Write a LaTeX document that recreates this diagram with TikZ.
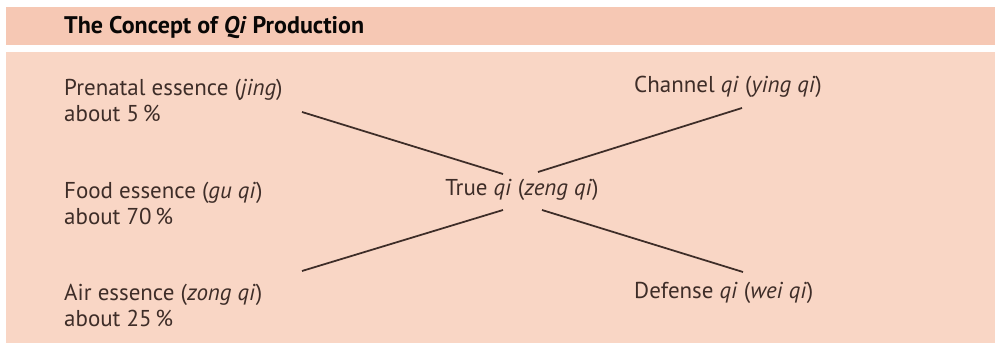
\documentclass[tikz,border=0pt]{standalone}
\usepackage{fontspec}
\setmainfont{PT Sans}
\usetikzlibrary{positioning, calc}
\definecolor{headColor}{RGB}{246, 200, 180}
\definecolor{bodyColor}{RGB}{249, 214, 197}
\definecolor{inkColor}{RGB}{62, 45, 40}

\begin{document}
\begin{tikzpicture}[x=0.03cm, y=-0.03cm,
      label/.style={anchor=west, align=left, inner sep=0pt, text=inkColor, font=\fontsize{19.6}{22.2}\selectfont},
      link/.style={draw=inkColor, line width=1.5pt}]

      \useasboundingbox (0,0) rectangle (995,343);
      \fill[headColor] (6,7) rectangle (1000,45);
      \fill[bodyColor] (6,52) rectangle (1000,350);

      \node[label, text=black!85!inkColor, font=\bfseries\fontsize{20.5}{24}\selectfont] (title) at (64,28) {The Concept of \textit{Qi} Production};

      % sources
      \node[label] (pren) at (64,100) {Prenatal essence (\textit{jing})\\about 5\,\%};
      \node[label] (food) at (64,203) {Food essence (\textit{gu qi})\\about 70\,\%};
      \node[label] (air) at (64,305) {Air essence (\textit{zong qi})\\about 25\,\%};

      % centre and results
      \node[label, anchor=center] (true) at (522,190) {True \textit{qi} (\textit{zeng qi})};
      \node[label] (chan) at (634,87) {Channel \textit{qi} (\textit{ying qi})};
      \node[label] (def) at (634,293) {Defense \textit{qi} (\textit{wei qi})};

      \coordinate (pren out) at (302,112);
      \coordinate (air out) at (302,271);
      \coordinate (chan in) at (742,108);
      \coordinate (def in) at (743,272);
      \coordinate (true nw) at (503,174);
      \coordinate (true sw) at (503,210);
      \coordinate (true ne) at (538,172);
      \coordinate (true se) at (542,210);

      \draw[link] (pren out) -- (true nw);
      \draw[link] (air out) -- (true sw);
      \draw[link] (true ne) -- (chan in);
      \draw[link] (true se) -- (def in);
  \end{tikzpicture}
\end{document}
